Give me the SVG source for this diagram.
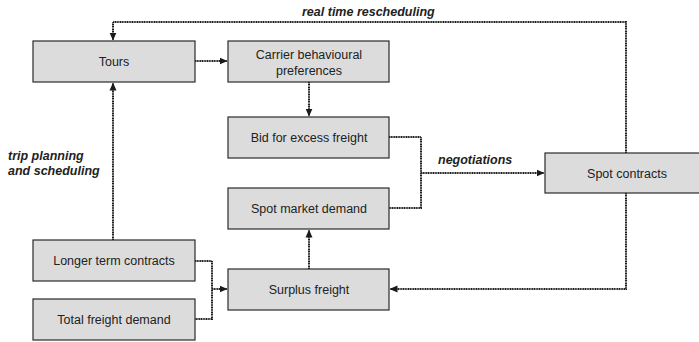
<svg xmlns="http://www.w3.org/2000/svg" width="699" height="342" viewBox="0 0 699 342">
<defs>
<marker id="ah" viewBox="0 0 8 8" refX="7.5" refY="4" markerWidth="8" markerHeight="8" markerUnits="userSpaceOnUse" orient="auto">
<path d="M0,0.5 L8,4 L0,7.5 Z" fill="#1a1a1a"/>
</marker>
<style>
.box{fill:#dcdcdc;stroke:#2a2a2a;stroke-width:1.2}
.t{font-family:"Liberation Sans",Arial,sans-serif;font-size:12.5px;fill:#222;text-anchor:middle}
.lbl{font-family:"Liberation Sans",Arial,sans-serif;font-size:12.5px;font-weight:bold;font-style:italic;fill:#222}
.c{fill:none;stroke:#1e1e1e;stroke-width:2;stroke-dasharray:1.2 0.5}
</style>
</defs>
<rect width="699" height="342" fill="#fff"/>
<g id="connectors">
<path class="c" d="M626,153 V22 H113 V40" marker-end="url(#ah)"/>
<path class="c" d="M195,61 H227" marker-end="url(#ah)"/>
<path class="c" d="M309,82 V116" marker-end="url(#ah)"/>
<path class="c" d="M113,240 V83" marker-end="url(#ah)"/>
<path class="c" d="M389,137 H421 V208 H389"/>
<path class="c" d="M421,173 H544" marker-end="url(#ah)"/>
<path class="c" d="M195,261 H212 V319 H195"/>
<path class="c" d="M212,289 H227" marker-end="url(#ah)"/>
<path class="c" d="M309,269 V230" marker-end="url(#ah)"/>
<path class="c" d="M626,193 V289 H390" marker-end="url(#ah)"/>
<text class="lbl" x="302" y="16">real time rescheduling</text>
<text class="lbl" x="438" y="164">negotiations</text>
<text class="lbl" x="8" y="160">trip planning</text>
<text class="lbl" x="8" y="175">and scheduling</text>
</g>
<g id="tours"><rect class="box" x="33" y="41" width="162" height="41"/><text class="t" x="114" y="66">Tours</text></g>
<g id="carrier"><rect class="box" x="228" y="41" width="161" height="41"/><text class="t" x="309" y="59">Carrier behavioural</text><text class="t" x="309" y="75">preferences</text></g>
<g id="bid"><rect class="box" x="228" y="117" width="161" height="41"/><text class="t" x="309" y="142">Bid for excess freight</text></g>
<g id="spotmarket"><rect class="box" x="228" y="188" width="161" height="41"/><text class="t" x="309" y="213">Spot market demand</text></g>
<g id="spotcontracts"><rect class="box" x="545" y="153" width="164" height="40"/><text class="t" x="627" y="178">Spot contracts</text></g>
<g id="longer"><rect class="box" x="33" y="240" width="162" height="41"/><text class="t" x="114" y="265">Longer term contracts</text></g>
<g id="surplus"><rect class="box" x="228" y="269" width="161" height="41"/><text class="t" x="309" y="294">Surplus freight</text></g>
<g id="total"><rect class="box" x="33" y="299" width="162" height="41"/><text class="t" x="114" y="324">Total freight demand</text></g>
</svg>
